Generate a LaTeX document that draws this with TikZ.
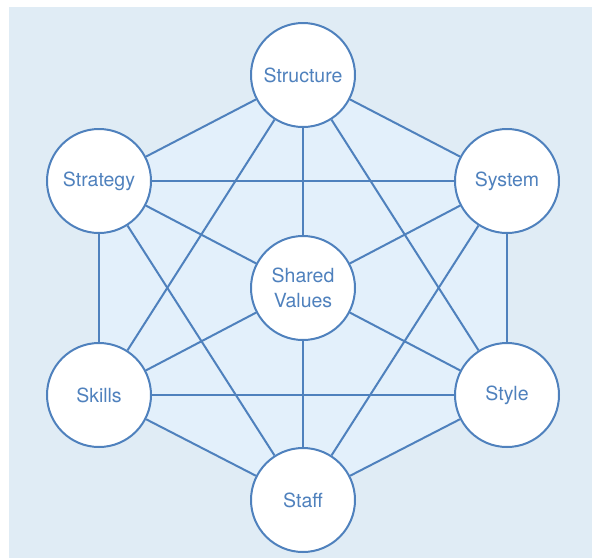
\documentclass[tikz,border=0pt]{standalone}
\usepackage{fontspec}
\setmainfont{TeX Gyre Heros}
\usetikzlibrary{backgrounds}
\definecolor{sevblue}{RGB}{79,129,189}
\definecolor{bgblue}{RGB}{224,236,245}
\definecolor{hexblue}{RGB}{227,240,251}
\tikzset{
sphere/.style={circle, draw=sevblue, line width=2pt, fill=white, minimum size=104pt, inner sep=0pt, text=sevblue, font=\fontsize{19.5}{25}\selectfont, align=center}, % the seven S circles
link/.style={draw=sevblue, line width=2pt},
}

\begin{document}
\begin{tikzpicture}[x=1pt,y=1pt,yscale=-1]
\useasboundingbox (0,0) rectangle (592,558);
%Circles
\node[sphere] (struct) at (303,75) {Structure};
\node[sphere] (strat) at (99,181) {Strategy};
\node[sphere] (sys) at (507,181) {System};
\node[sphere] (shared) at (303,288) {Shared\\Values};
\node[sphere] (skills) at (99,395) {Skills};
\node[sphere] (style) at (507,395) {Style};
\node[sphere] (staff) at (303,500) {Staff};
\begin{scope}[on background layer]
%Background
\fill[bgblue] (9,7) rectangle (592,558);
%Hexagon
\fill[hexblue] (struct.center) -- (sys.center) -- (style.center) -- (staff.center) -- (skills.center) -- (strat.center) -- cycle;
%Lines
\foreach \a/\b in {struct/sys, sys/style, style/staff, staff/skills, skills/strat, strat/struct,
  struct/style, sys/staff, style/skills, staff/strat, skills/struct, strat/sys,
  shared/struct, shared/sys, shared/style, shared/staff, shared/skills, shared/strat}
  \draw[link] (\a) -- (\b);
\end{scope}
\end{tikzpicture}
\end{document}
